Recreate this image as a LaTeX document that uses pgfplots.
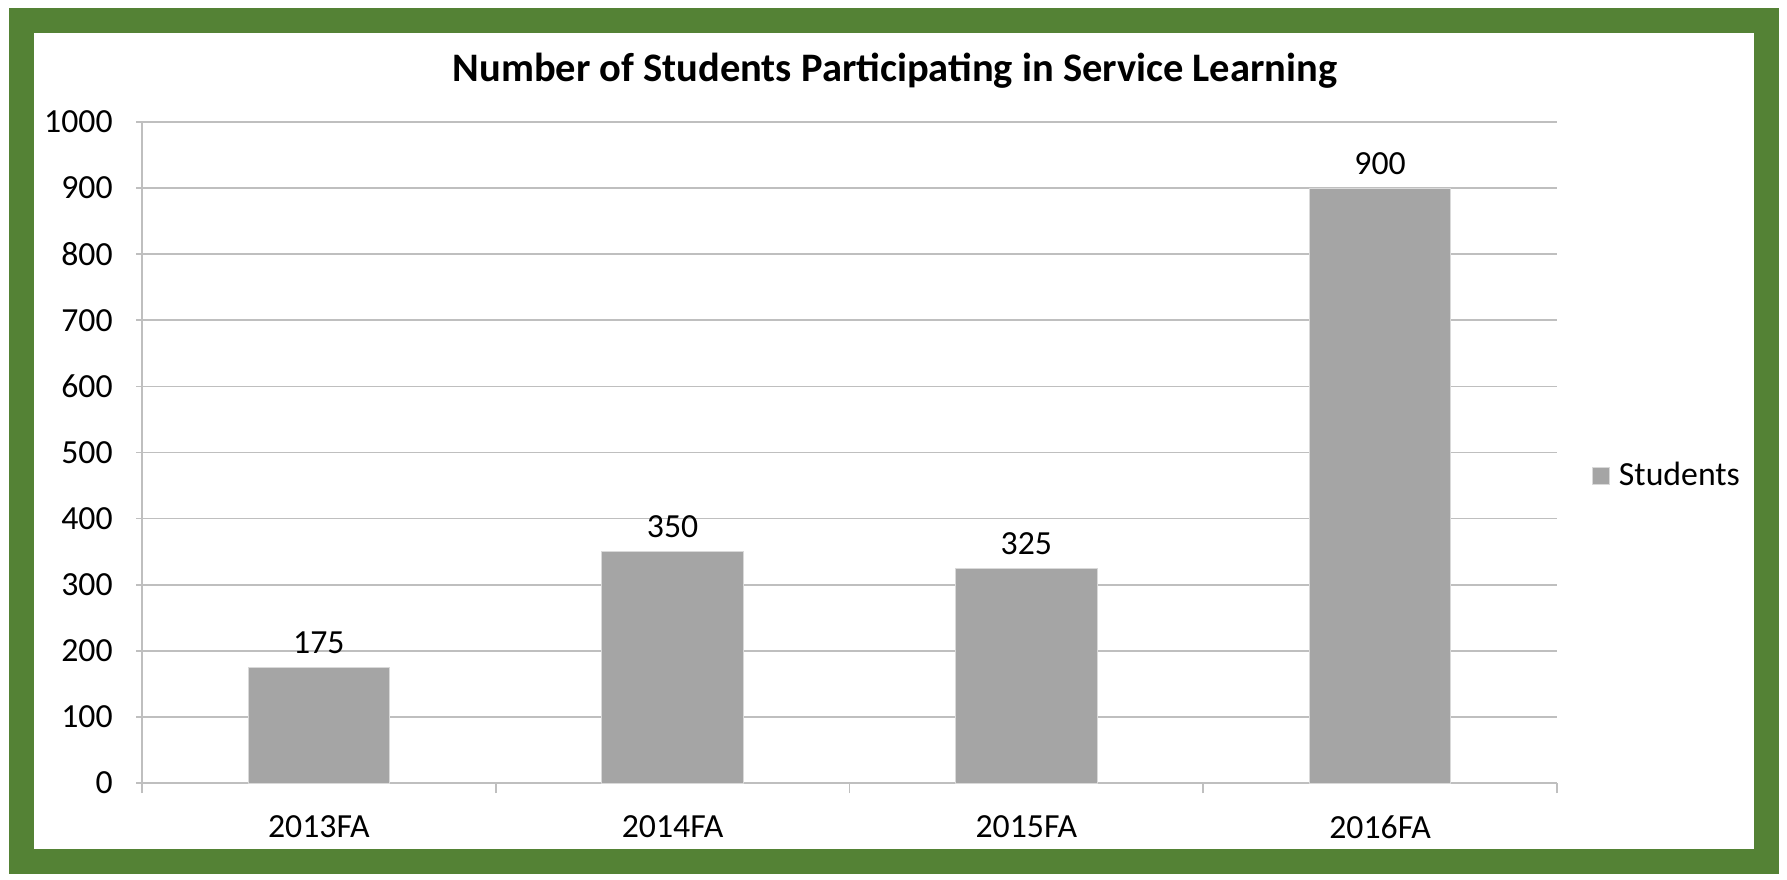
\documentclass[border=0pt]{standalone}
\usepackage{pgfplots}
\pgfplotsset{compat=1.18}
\usepackage{fontspec}
\setmainfont{Carlito}
\definecolor{framegreen}{HTML}{548235}
\definecolor{bargray}{HTML}{A5A5A5}
\definecolor{gridgray}{HTML}{BFBFBF}
\begin{document}
\begin{tikzpicture}[x=1pt,y=1pt]
\path[use as bounding box] (0,0) rectangle (714.8,351.6);
\fill[white] (0,0) rectangle (714.8,351.6);
\draw[framegreen, line width=10pt] (8.6,7.2) rectangle (706.4,343.2);
\node[font=\bfseries\fontsize{16.2}{19}\selectfont] at (358,323.2) {Number of Students Participating in Service Learning};
\begin{axis}[
  at={(56.8pt,38.4pt)}, anchor=south west,
  scale only axis, width=566pt, height=264.4pt,
  xmin=-0.5, xmax=3.5, ymin=0, ymax=1000,
  ytick distance=100,
  xtick={0,1,2,3},
  xticklabels={2013FA,2014FA,2015FA,2016FA},
  minor xtick={-0.5,0.5,1.5,2.5,3.5},
  major x tick style={draw=none},
  minor tick length=4pt,
  major tick length=4.4pt,
  tick align=outside,
  tick pos=left,
  tick style={gridgray, line width=0.7pt},
  axis lines=left,
  axis line style={gridgray, line width=0.7pt, -},
  ymajorgrids,
  grid style={gridgray, line width=0.7pt},
  /pgf/number format/assume math mode=true,
  /pgf/number format/1000 sep={},
  ticklabel style={font=\fontsize{13.5}{16}\selectfont, text=black},
  yticklabel style={xshift=-6pt},
  xticklabel style={yshift=-5pt},
  ybar, bar width=56.6pt,
  nodes near coords,
  nodes near coords style={font=\fontsize{13.5}{16}\selectfont, text=black, yshift=2pt},
  legend style={at={(1.0247,0.4644)}, anchor=west, draw=none, fill=none,
    inner sep=0pt, font=\fontsize{13.5}{16}\selectfont},
  legend image code/.code={\path[fill=bargray, draw=white!85!black, line width=0.4pt] (0pt,-3.4pt) rectangle (6.8pt,3.4pt); \path[draw=none, fill=none] (8.4pt,0pt) circle (0pt);},
]
\addplot[fill=bargray, draw=white!85!black, line width=0.4pt]
  coordinates {(0,175) (1,350) (2,325) (3,900)};
\addlegendentry{Students}
\end{axis}
\end{tikzpicture}
\end{document}
